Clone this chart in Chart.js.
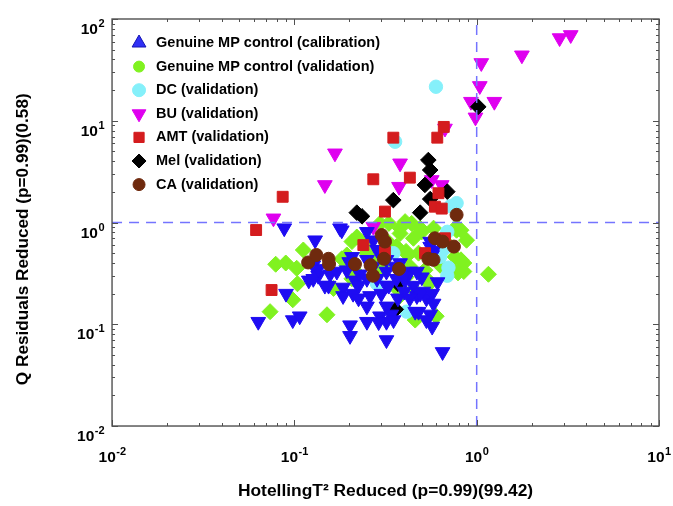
<!DOCTYPE html>
<html>
<head>
<meta charset="utf-8">
<script src="https://cdn.jsdelivr.net/npm/chart.js@4.4.1/dist/chart.umd.min.js"></script>
<style>
  html, body { margin: 0; padding: 0; background: #fff; }
  #wrap { width: 673px; height: 506px; }
</style>
</head>
<body>
<div id="wrap"><canvas id="qt" width="673" height="506"></canvas></div>
<script>
// [HotellingT2 reduced, Q residuals reduced]
const calibPoints = [
  [0.088,0.88],[0.178,0.88],[0.182,0.84],[0.13,0.67],[0.25,0.81],[0.271,0.67],[0.207,0.46],
  [0.127,0.38],[0.135,0.30],[0.157,0.31],[0.171,0.33],[0.194,0.34],[0.154,0.24],[0.185,0.23],
  [0.215,0.27],[0.229,0.31],[0.25,0.28],[0.185,0.19],[0.21,0.20],[0.26,0.19],[0.25,0.15],
  [0.32,0.33],[0.32,0.24],[0.30,0.20],[0.357,0.37],[0.363,0.28],[0.405,0.27],[0.45,0.24],
  [0.50,0.29],[0.51,0.21],[0.53,0.18],[0.58,0.16],[0.556,0.125],[0.48,0.133],[0.37,0.18],
  [0.32,0.15],[0.295,0.12],[0.25,0.106],[0.32,0.106],[0.34,0.125],[0.202,0.098],[0.202,0.077],
  [0.32,0.07],[0.098,0.11],[0.0634,0.106],[0.09,0.20],[0.65,0.0535],[0.58,0.53],[0.556,0.65],
  [0.284,0.54],[0.38,0.40],[0.43,0.33],[0.27,0.37],[0.32,0.43],[0.225,0.24],[0.40,0.21],
  [0.47,0.19],[0.12,0.27],[0.127,0.28],[0.147,0.24],[0.225,0.18],[0.35,0.11],[0.46,0.133],
  [0.53,0.11],[0.57,0.095],[0.49,0.20],[0.57,0.20],[0.43,0.18],[0.33,0.24],[0.284,0.28],
  [0.40,0.30],[0.47,0.33],[0.556,0.58],[0.57,0.48],[0.135,0.35],[0.25,0.43],[0.20,0.41],
  [0.107,0.12],[0.29,0.105],[0.61,0.26]
];
const validPoints = [
  [0.112,0.537],[0.079,0.389],[0.0897,0.40],[0.103,0.355],[0.104,0.25],[0.098,0.174],[0.0736,0.133],
  [0.151,0.124],[0.164,0.225],[0.182,0.44],[0.207,0.65],[0.22,0.72],[0.194,0.38],[0.194,0.48],
  [0.25,0.5],[0.22,0.32],[0.295,0.35],[0.33,0.98],[0.405,1.02],[0.38,0.88],[0.38,0.78],
  [0.45,0.70],[0.42,0.48],[0.49,0.88],[0.363,0.58],[0.32,0.67],[0.295,0.98],[0.245,0.625],
  [0.207,0.28],[0.43,0.37],[0.55,0.25],[0.60,0.12],[0.46,0.11],[0.41,0.29],[0.776,0.84],
  [0.88,0.67],[0.76,0.46],[0.85,0.40],[0.85,0.33],[0.74,0.355],[1.16,0.31],[0.58,0.88],
  [0.63,0.38],[0.31,0.39],[0.38,0.19],[0.45,0.22],[0.69,0.62],[0.44,0.98],[0.5,0.81],
  [0.41,0.52],[0.82,0.84],[0.82,0.43],[0.79,0.32],[0.53,0.28],[0.284,0.48],[0.48,0.5],
  [0.776,0.91],[0.36,0.23],[0.52,0.34]
];
const dcPoints = [
  [0.598,21.6],[0.357,6.22],[0.776,1.55],[0.72,1.45],[0.69,0.81],[0.66,0.55],[0.63,0.46],
  [0.70,0.36],[0.69,0.30],[0.413,0.133],[0.284,0.25],[0.349,0.50]
];
const buPoints = [
  [2.85,65],[3.28,69.7],[1.77,44],[1.06,37],[1.04,22],[0.93,15.4],[1.25,15.4],[0.985,10.8],
  [0.67,8.4],[0.167,4.79],[0.38,3.82],[0.147,2.34],[0.375,2.25],[0.567,2.62],[0.643,2.34],
  [0.0768,1.1],[0.271,0.91]
];
const amtPoints = [
  [0.349,6.82],[0.608,6.82],[0.66,8.7],[0.271,2.66],[0.43,2.76],[0.314,1.28],[0.617,1.94],
  [0.59,1.43],[0.643,1.37],[0.0863,1.79],[0.0617,0.843],[0.239,0.60],[0.314,0.516],
  [0.521,0.50],[0.67,0.70],[0.075,0.217]
];
const melPoints = [
  [1.02,13.7],[0.543,4.11],[0.556,3.28],[0.52,2.34],[0.69,2.01],[0.556,1.70],[0.349,1.66],
  [0.49,1.25],[0.22,1.25],[0.235,1.15],[0.37,0.25],[0.36,0.14]
];
const caPoints = [
  [0.776,1.19],[0.301,0.753],[0.314,0.65],[0.31,0.44],[0.119,0.405],[0.132,0.48],[0.154,0.44],
  [0.155,0.39],[0.215,0.39],[0.262,0.38],[0.27,0.30],[0.375,0.35],[0.59,0.70],[0.65,0.65],
  [0.75,0.58],[0.543,0.44],[0.58,0.43]
];
const t2Limit = 1;
const qLimit = 1;
const xRange = [0.01, 10];
const yRange = [0.01, 100];
const xPowers = [-2, -1, 0, 1];
const yPowers = [-2, -1, 0, 1, 2];

const FONT = '"Liberation Sans", Arial, Helvetica, sans-serif';
Chart.defaults.font.family = FONT;

const toXY = (pts) => pts.map(p => ({x: p[0], y: p[1]}));

// legend entries (the legend symbols differ from the plotted ones, as in the figure)
const legendItems = [
  {text: 'Genuine MP control (calibration)', style: 'triangle', rot: 0, r: 8, fill: '#3030f5', edge: '#1414b4'},
  {text: 'Genuine MP control (validation)', style: 'circle', rot: 0, r: 5.5, fill: '#80f220', edge: '#80f220'},
  {text: 'DC (validation)', style: 'circle', rot: 0, r: 6.5, fill: '#85f0fa', edge: '#85f0fa'},
  {text: 'BU (validation)', style: 'triangle', rot: 180, r: 8, fill: '#df00ef', edge: '#df00ef'},
  {text: 'AMT (validation)', style: 'rect', rot: 0, r: 7.2, fill: '#d41c1e', edge: '#d41c1e'},
  {text: 'Mel (validation)', style: 'rectRot', rot: 0, r: 7, fill: '#000', edge: '#000'},
  {text: 'CA (validation)', style: 'circle', rot: 0, r: 6, fill: '#6f2a0e', edge: '#6f2a0e'}
];

function drawPow(ctx, p, x, base, align) {
  const big = 'bold 15.5px ' + FONT, small = 'bold 11px ' + FONT;
  const e = String(p);
  ctx.font = big; const w1 = ctx.measureText('10').width;
  ctx.font = small; const w2 = ctx.measureText(e).width;
  const left = align === 'right' ? x - w1 - w2 : x - (w1 + w2) / 2;
  ctx.textAlign = 'left';
  ctx.textBaseline = 'alphabetic';
  ctx.font = big; ctx.fillText('10', left, base);
  ctx.font = small; ctx.fillText(e, left + w1 + 0.5, base - 7);
}

const axesBox = {
  id: 'axesBox',
  afterDraw(chart) {
    const {ctx, chartArea: a, scales: {x, y}} = chart;
    ctx.save();
    ctx.strokeStyle = '#505050';
    ctx.lineWidth = 1.4;
    ctx.strokeRect(a.left, a.top, a.right - a.left, a.bottom - a.top);
    ctx.lineWidth = 1;
    ctx.beginPath();
    xPowers.forEach(p => {
      for (let m = 1; m <= 9; m++) {
        const v = m * Math.pow(10, p);
        if (v > xRange[1] * 1.0001) break;
        const px = Math.round(x.getPixelForValue(v)) + 0.5;
        const len = m === 1 ? 6 : 3;
        ctx.moveTo(px, a.bottom); ctx.lineTo(px, a.bottom - len);
        ctx.moveTo(px, a.top); ctx.lineTo(px, a.top + len);
      }
    });
    yPowers.forEach(p => {
      for (let m = 1; m <= 9; m++) {
        const v = m * Math.pow(10, p);
        if (v > yRange[1] * 1.0001) break;
        const py = Math.round(y.getPixelForValue(v)) + 0.5;
        const len = m === 1 ? 6 : 3;
        ctx.moveTo(a.left, py); ctx.lineTo(a.left + len, py);
        ctx.moveTo(a.right, py); ctx.lineTo(a.right - len, py);
      }
    });
    ctx.stroke();

    ctx.fillStyle = '#000';
    xPowers.forEach(p => drawPow(ctx, p, x.getPixelForValue(Math.pow(10, p)), a.bottom + 36, 'center'));
    yPowers.forEach(p => drawPow(ctx, p, a.left - 8, y.getPixelForValue(Math.pow(10, p)) + 15, 'right'));

    // legend
    legendItems.forEach((it, i) => {
      const cy = a.top + 24 + i * 23.6;
      const cx = a.left + 27;
      ctx.fillStyle = it.fill;
      ctx.strokeStyle = it.edge;
      ctx.lineWidth = 1;
      Chart.helpers.drawPoint(ctx, {pointStyle: it.style, radius: it.r, rotation: it.rot, borderWidth: 1}, cx, cy);
      ctx.fillStyle = '#000';
      ctx.font = 'bold 14.5px ' + FONT;
      ctx.textAlign = 'left';
      ctx.textBaseline = 'middle';
      ctx.fillText(it.text, cx + 17, cy);
    });
    ctx.restore();
  }
};

function series(label, pts, style, rot, r, color, order) {
  return {
    label: label,
    data: toXY(pts),
    pointStyle: style,
    rotation: rot,
    pointRadius: r,
    backgroundColor: color,
    borderColor: color,
    borderWidth: 1,
    showLine: false,
    order: order
  };
}

const limitColor = '#7474ff';
const datasets = [
  series('CA (validation)', caPoints, 'circle', 0, 6.5, '#6f2a0e', 1),
  series('AMT (validation)', amtPoints, 'rect', 0, 7.7, '#d41c1e', 2),
  series('Genuine MP control (calibration)', calibPoints, 'triangle', 180, 8.5, '#1e0cf2', 3),
  series('Mel (validation)', melPoints, 'rectRot', 0, 7.8, '#000000', 4),
  series('BU (validation)', buPoints, 'triangle', 180, 8.5, '#df00ef', 5),
  series('DC (validation)', dcPoints, 'circle', 0, 6.7, '#85f0fa', 6),
  series('Genuine MP control (validation)', validPoints, 'rectRot', 0, 8, '#80f220', 7),
  {
    label: 'T2 limit',
    data: [{x: t2Limit, y: yRange[0]}, {x: t2Limit, y: yRange[1]}],
    showLine: true, borderColor: limitColor, borderWidth: 1.5, borderDash: [10, 7],
    pointRadius: 0, order: 0
  },
  {
    label: 'Q limit',
    data: [{x: xRange[0], y: qLimit}, {x: xRange[1], y: qLimit}],
    showLine: true, borderColor: limitColor, borderWidth: 1.5, borderDash: [10, 7],
    pointRadius: 0, order: 0
  }
];

new Chart(document.getElementById('qt').getContext('2d'), {
  type: 'scatter',
  data: { datasets: datasets },
  options: {
    responsive: false,
    animation: false,
    events: [],
    layout: { padding: { left: 0, right: 14, top: 19, bottom: 0 } },
    plugins: {
      legend: { display: false },
      tooltip: { enabled: false }
    },
    scales: {
      x: {
        type: 'logarithmic',
        min: xRange[0],
        max: xRange[1],
        grid: { display: false, drawTicks: false },
        border: { display: false },
        ticks: { display: false },
        title: {
          display: true,
          text: 'HotellingT\u00B2 Reduced (p=0.99)(99.42)',
          color: '#000',
          font: { size: 17.4, weight: 'bold' },
          padding: { top: 55.1, bottom: 4 }
        }
      },
      y: {
        type: 'logarithmic',
        min: yRange[0],
        max: yRange[1],
        grid: { display: false, drawTicks: false },
        border: { display: false },
        ticks: { display: false },
        title: {
          display: true,
          text: 'Q Residuals Reduced (p=0.99)(0.58)       ',
          color: '#000',
          font: { size: 17.2, weight: 'bold' },
          padding: { top: 12.6, bottom: 78.8 }
        }
      }
    }
  },
  plugins: [axesBox]
});
</script>
</body>
</html>
